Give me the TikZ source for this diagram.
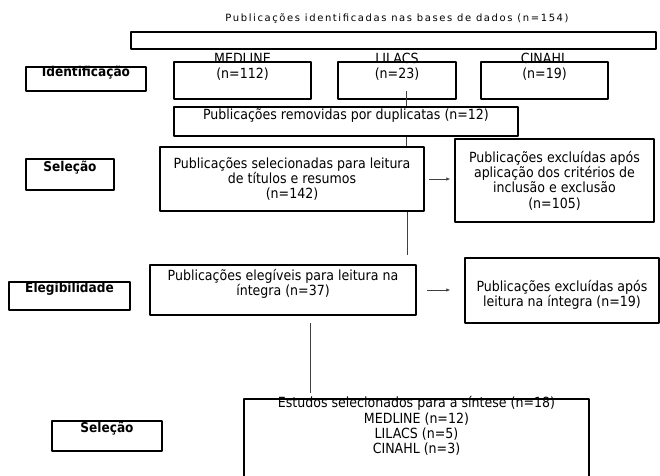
\documentclass[tikz,border=0pt]{standalone}
\usepackage{fontspec}
\setmainfont{DejaVu Sans Condensed}
\newfontfamily\titlefont{DejaVu Sans}[LetterSpace=16]
\usetikzlibrary{%
	calc,%
	arrows.meta%
}
\tikzstyle{box}=[draw, line width=1.5pt, rectangle, inner sep=0pt, fill=white]
\tikzstyle{line}=[draw, line width=0.7pt, black!75]
\tikzstyle{arr}=[draw, line width=0.7pt, black!75, -{Latex[length=4pt,width=3.5pt]}]
\tikzstyle{txt}=[align=center, inner sep=0pt, font=\fontsize{14}{15.3}\selectfont]
\tikzstyle{stage}=[inner sep=0pt, font=\fontsize{13.5}{15.3}\selectfont\bfseries]

\begin{document}
\begin{tikzpicture}[x=1pt, y=-1pt, line join=bevel]
	\useasboundingbox (0,0) rectangle (660,475);

	% Identification
	\node[inner sep=0pt, font=\titlefont\fontsize{10}{11}\selectfont] (tit) at (397,19) {Publicações identificadas nas bases de dados (n=154)};
	\node[box, minimum width=525pt, minimum height=17pt] (base) at (393.5,40.5) {};
	\node[box, minimum width=120pt, minimum height=24pt] (idf) at (86,79) {};
	\node[stage] (idft) at (86,73) {Identificação};
	\foreach \nm/\x/\w/\db/\n in {med/242.5/137/MEDLINE/112, lil/397/118/LILACS/23, cin/544.5/127/CINAHL/19}{
		\node[box, minimum width=\w pt, minimum height=37pt] (\nm) at (\x,80.5) {};
		\node[txt] (\nm t) at (\x,66.5) {\db\\(n=\n)};
	}

	% Selection
	\node[box, minimum width=88pt, minimum height=31pt] (sel1) at (70,174.5) {};
	\node[stage] (sel1t) at (70,168) {Seleção};
	\node[box, txt, minimum width=264pt, minimum height=64pt] (sel) at (292,179) {Publicações selecionadas para leitura\\de títulos e resumos\\(n=142)};
	\coordinate (c1) at (406,91);
	\draw[line] (c1) -- (c1 |- sel.north);
	\node[box, minimum width=344pt, minimum height=29pt] (dup) at (346,121.5) {};
	\node[txt] (dupt) at (346,116) {Publicações removidas por duplicatas (n=12)};
	\node[box, txt, minimum width=199pt, minimum height=83pt] (exc1) at (554.5,180.5) {Publicações excluídas após\\aplicação dos critérios de\\inclusão e exclusão\\(n=105)};
	\draw[arr, shorten <=4pt, shorten >=4pt] (sel.east) -- (sel.east -| exc1.west);

	% Eligibility
	\coordinate (c2) at (407,255);
	\draw[line] (sel.south -| c2) -- (c2);
	\node[box, minimum width=121pt, minimum height=28pt] (elg) at (69.5,296) {};
	\node[stage] (elgt) at (69.5,289) {Elegibilidade};
	\node[box, minimum width=266pt, minimum height=50pt] (eleg) at (283,290) {};
	\node[txt] (elegt) at (283,284) {Publicações elegíveis para leitura na\\íntegra (n=37)};
	\node[box, minimum width=194pt, minimum height=65pt] (exc2) at (562,290.5) {};
	\node[txt] (exc2t) at (562,294.5) {Publicações excluídas após\\leitura na íntegra (n=19)};
	\draw[arr, shorten <=10pt, shorten >=14pt] (eleg.east) -- (eleg.east -| exc2.west);

	% Inclusion
	\coordinate (c3a) at (310,323);
	\coordinate (c3b) at (310,393);
	\draw[line] (c3a) -- (c3b);
	\node[box, minimum width=110pt, minimum height=30pt] (sel2) at (107,436) {};
	\node[stage] (sel2t) at (107,429) {Seleção};
	\node[box, minimum width=345pt, minimum height=86pt] (fin) at (416.5,442) {};
	\node[txt] (fint) at (416.5,426) {Estudos selecionados para a síntese (n=18)\\MEDLINE (n=12)\\LILACS (n=5)\\CINAHL (n=3)};
\end{tikzpicture}
\end{document}
